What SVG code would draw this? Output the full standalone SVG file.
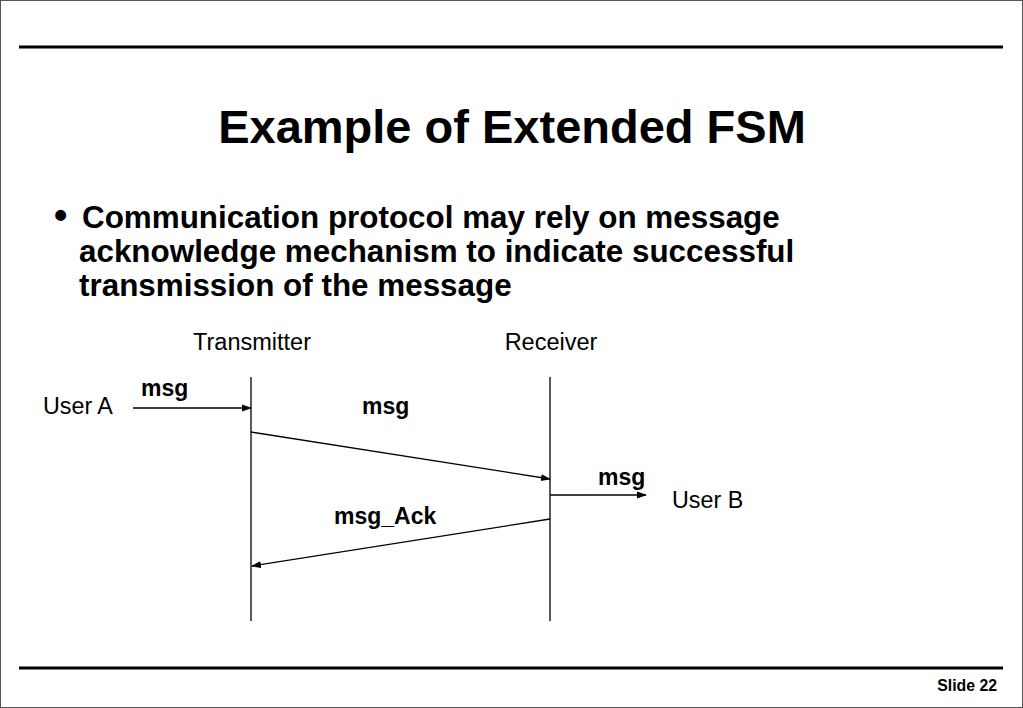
<svg xmlns="http://www.w3.org/2000/svg" width="1023" height="708" viewBox="0 0 1023 708">
<style>
.t{font-family:"Liberation Sans",Arial,sans-serif;fill:#000}
.b{font-weight:bold}
.ln{stroke:#000;stroke-width:1.3;fill:none}
</style>
<defs>
<marker id="ah" markerWidth="10" markerHeight="8" refX="9" refY="4" orient="auto" markerUnits="userSpaceOnUse">
<path d="M0,0.5 L10,4 L0,7.5 Z" fill="#000"/>
</marker>
</defs>
<rect x="0.5" y="0.5" width="1022" height="707" fill="#fff" stroke="#555" stroke-width="1"/>
<line x1="19" y1="47" x2="1003" y2="47" stroke="#000" stroke-width="3"/>
<line x1="19" y1="668" x2="1003" y2="668" stroke="#000" stroke-width="3"/>
<text class="t b" x="512" y="143" font-size="47" text-anchor="middle">Example of Extended FSM</text>
<text class="t b" x="54" y="228" font-size="38">•</text>
<text class="t b" font-size="31.4"><tspan x="82" y="228">Communication protocol may rely on message</tspan><tspan x="79" y="262">acknowledge mechanism to indicate successful</tspan><tspan x="79" y="296">transmission of the message</tspan></text>
<g id="transmitter"><text class="t" x="252" y="350" font-size="23.5" text-anchor="middle">Transmitter</text><line class="ln" x1="251" y1="377" x2="251" y2="621"/></g>
<g id="receiver"><text class="t" x="551" y="350" font-size="23.5" text-anchor="middle">Receiver</text><line class="ln" x1="550" y1="377" x2="550" y2="621"/></g>
<g id="userA"><text class="t" x="43" y="414" font-size="23.3">User A</text></g>
<g id="userB"><text class="t" x="672" y="508" font-size="23.3">User B</text></g>
<g id="connectors">
<line class="ln" x1="133" y1="408" x2="251" y2="408" marker-end="url(#ah)"/>
<line class="ln" x1="251" y1="432" x2="550" y2="479" marker-end="url(#ah)"/>
<line class="ln" x1="550" y1="495" x2="646" y2="495" marker-end="url(#ah)"/>
<line class="ln" x1="550" y1="519" x2="252" y2="566" marker-end="url(#ah)"/>
</g>
<text class="t b" x="141" y="396" font-size="23">msg</text>
<text class="t b" x="362" y="414" font-size="23">msg</text>
<text class="t b" x="598" y="485" font-size="23">msg</text>
<text class="t b" x="334" y="524" font-size="23">msg_Ack</text>
<text class="t b" x="997" y="691" font-size="15.8" text-anchor="end">Slide 22</text>
</svg>
